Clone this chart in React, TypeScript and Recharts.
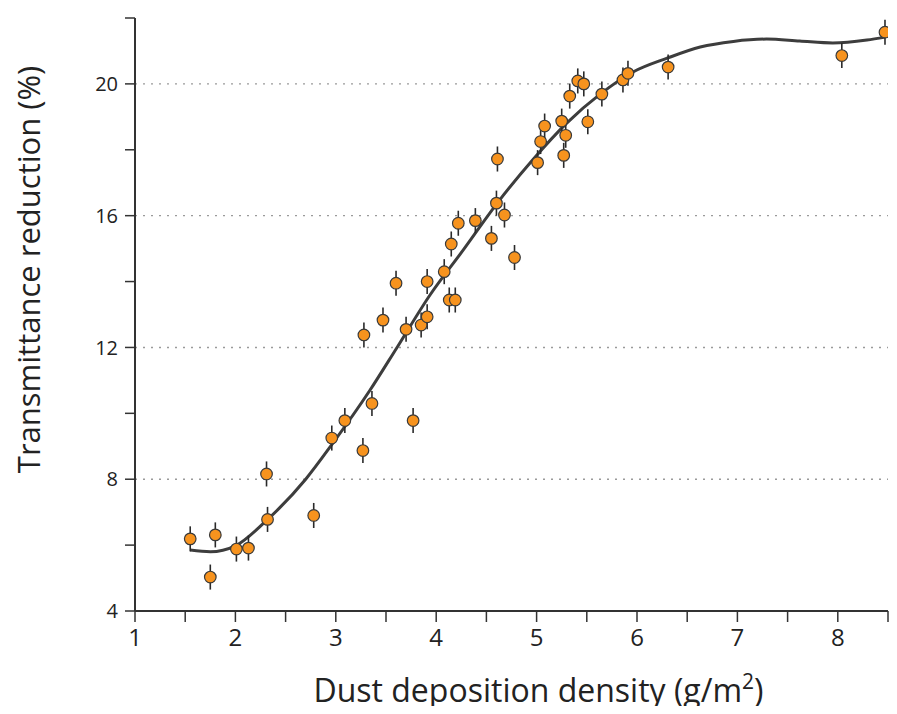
import React from 'react';
import { ComposedChart, Line, Scatter, XAxis, YAxis, ErrorBar, ReferenceLine } from 'recharts';

const pointX = [1.55, 1.75, 1.8, 2.01, 2.13, 2.31, 2.32, 2.78, 2.96, 3.09, 3.27, 3.28, 3.36, 3.47, 3.77, 3.6, 3.7, 3.85, 3.91, 3.91, 4.08, 4.13, 4.19, 4.15, 4.22, 4.39, 4.55, 4.6, 4.61, 4.68, 4.78, 5.01, 5.04, 5.08, 5.27, 5.25, 5.29, 5.33, 5.41, 5.47, 5.51, 5.65, 5.86, 5.91, 6.31, 8.04, 8.47];
const pointY = [6.19, 5.03, 6.31, 5.88, 5.91, 8.16, 6.78, 6.9, 9.25, 9.78, 8.87, 12.38, 10.3, 12.83, 9.78, 13.95, 12.55, 12.68, 12.93, 14.0, 14.3, 13.44, 13.44, 15.14, 15.77, 15.85, 15.31, 16.38, 17.72, 16.02, 14.73, 17.61, 18.25, 18.72, 17.83, 18.87, 18.44, 19.63, 20.09, 20.0, 18.85, 19.69, 20.12, 20.32, 20.51, 20.86, 21.57];
const pointErr = [0.38, 0.38, 0.38, 0.38, 0.38, 0.38, 0.38, 0.38, 0.38, 0.38, 0.38, 0.38, 0.38, 0.38, 0.38, 0.38, 0.38, 0.38, 0.38, 0.38, 0.38, 0.38, 0.38, 0.38, 0.38, 0.38, 0.38, 0.38, 0.38, 0.38, 0.38, 0.38, 0.38, 0.38, 0.38, 0.38, 0.38, 0.38, 0.38, 0.38, 0.38, 0.38, 0.38, 0.38, 0.38, 0.38, 0.38];

const curveX = [1.55, 1.75, 2.0, 2.3, 2.7, 2.96, 3.34, 3.61, 3.94, 4.27, 4.61, 4.96, 5.3, 5.63, 5.96, 6.3, 6.63, 6.96, 7.29, 7.62, 7.95, 8.29, 8.47];
const curveY = [5.85, 5.8, 5.98, 6.72, 8.0, 9.05, 10.7, 12.0, 13.6, 14.96, 16.39, 17.69, 18.81, 19.68, 20.36, 20.78, 21.12, 21.29, 21.36, 21.3, 21.24, 21.33, 21.42];

const xTicks = [1, 1.5, 2, 2.5, 3, 3.5, 4, 4.5, 5, 5.5, 6, 6.5, 7, 7.5, 8, 8.5];
const yTicks = [4, 6, 8, 10, 12, 14, 16, 18, 20, 22];
const yLabeled = [4, 8, 12, 16, 20];
const gridY = [8, 12, 16, 20];

const xTitle = 'Dust deposition density (g/m';
const yTitle = 'Transmittance reduction (%)';

const points = pointX.map((x, i) => ({ x, y: pointY[i], err: pointErr[i] }));
const curve = curveX.map((x, i) => ({ x, y: curveY[i] }));

const FONT = '"Open Sans", sans-serif';
const AXIS = '#333333';

const Dot = (props: any) => (
  <circle cx={props.cx} cy={props.cy} r={5.8} fill="#F7931E" stroke="#3a3a3a" strokeWidth={1.2} />
);

export default function App() {
  return (
    <div style={{ width: 889, height: 698 }}>
      <style>{`.recharts-surface{overflow:visible}`}</style>
      <ComposedChart width={889} height={698} margin={{ top: 10, right: 9, bottom: 0, left: 0 }}>
        <XAxis
          type="number"
          dataKey="x"
          domain={[1, 8.5]}
          ticks={xTicks}
          interval={0}
          allowDataOverflow
          height={95}
          tickSize={11}
          tickMargin={7}
          stroke={AXIS}
          strokeWidth={2}
          tickLine={{ stroke: AXIS, strokeWidth: 1.5 }}
          tick={{ fill: '#222', fontSize: 24, fontFamily: FONT }}
          tickFormatter={(v: number) => (Number.isInteger(v) ? String(v) : '')}
          label={{
            content: (p: any) => {
              const vb = p.viewBox;
              return (
                <text x={vb.x + vb.width / 2 + 27} y={vb.y + 91} textAnchor="middle" fontFamily={FONT} fontSize={32} fill="#222">
                  {xTitle}
                  <tspan fontSize={21} dy={-13}>2</tspan>
                  <tspan dy={13}>)</tspan>
                </text>
              );
            },
          }}
        />
        <YAxis
          type="number"
          domain={[4, 22]}
          ticks={yTicks}
          interval={0}
          width={127}
          tickSize={10}
          tickMargin={7}
          stroke={AXIS}
          strokeWidth={2}
          tickLine={{ stroke: AXIS, strokeWidth: 1.5 }}
          tick={{ fill: '#222', fontSize: 20, fontFamily: FONT }}
          tickFormatter={(v: number) => (yLabeled.includes(v) ? String(v) : '')}
          label={{
            content: (p: any) => {
              const vb = p.viewBox;
              const cx = 24;
              const cy = vb.y + vb.height / 2 - 45;
              return (
                <text x={cx} y={cy} transform={`rotate(-90 ${cx} ${cy})`} textAnchor="middle" dominantBaseline="middle" fontFamily={FONT} fontSize={31} fill="#222">
                  {yTitle}
                </text>
              );
            },
          }}
        />
        {gridY.map((g) => (
          <ReferenceLine key={g} y={g} stroke="#9a9a9a" strokeWidth={1.4} strokeDasharray="2 6" />
        ))}
        <Line
          data={curve}
          dataKey="y"
          type="monotone"
          stroke="#3d3d3d"
          strokeWidth={3}
          dot={false}
          activeDot={false}
          isAnimationActive={false}
        />
        <Scatter data={points} dataKey="y" shape={Dot} isAnimationActive={false}>
          <ErrorBar dataKey="err" direction="y" width={0} stroke="#2a2a2a" strokeWidth={1.6} />
        </Scatter>
      </ComposedChart>
    </div>
  );
}
